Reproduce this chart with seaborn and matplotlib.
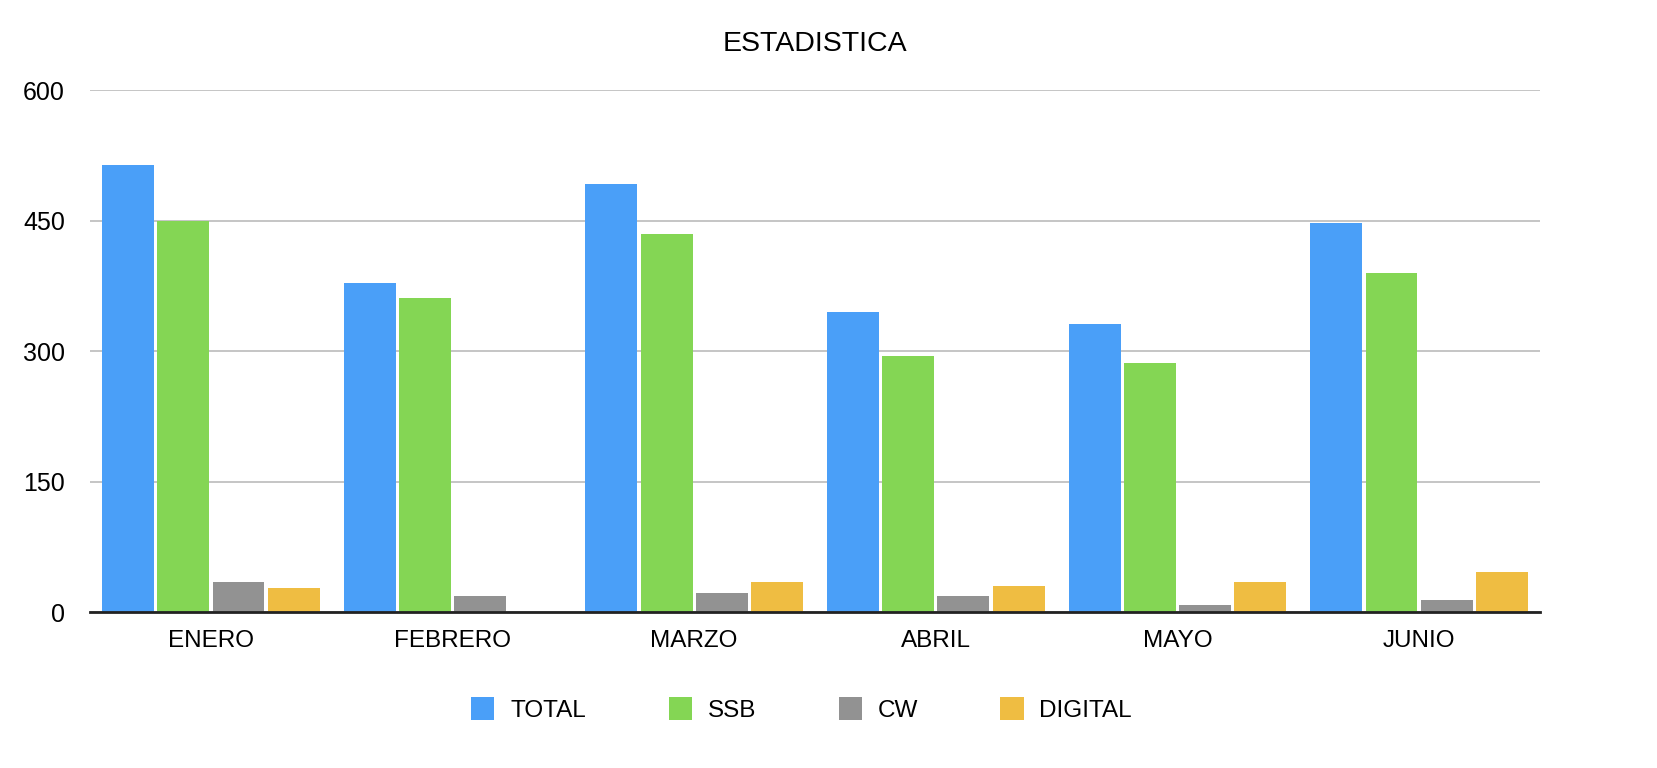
import matplotlib.pyplot as plt
import pandas as pd
import seaborn as sns

MESES = ['ENERO', 'FEBRERO', 'MARZO', 'ABRIL', 'MAYO', 'JUNIO']
SERIES = ['TOTAL', 'SSB', 'CW', 'DIGITAL']
TOTAL = [514, 379, 492, 345, 331, 448]
SSB = [450, 361, 435, 294, 287, 390]
CW = [34, 18, 22, 18, 8, 14]
DIGITAL = [28, 0, 34, 30, 34, 46]
Y_TICKS = [0, 150, 300, 450, 600]

COLORS = {'TOTAL': '#4A9FF8', 'SSB': '#84D654', 'CW': '#929292', 'DIGITAL': '#EFBD42'}

sns.set_theme(style='white')
plt.rcParams['font.family'] = ['Liberation Sans', 'DejaVu Sans']
plt.rcParams['text.color'] = 'black'

rows = []
for serie, vals in zip(SERIES, [TOTAL, SSB, CW, DIGITAL]):
    for mes, v in zip(MESES, vals):
        rows.append({'mes': mes, 'valor': v, 'serie': serie})
df = pd.DataFrame(rows)

fig = plt.figure(figsize=(16.58, 7.68), dpi=100)
ax = fig.add_axes([0.0543, 0.2031, 0.8745, 0.6792])

sns.barplot(data=df, x='mes', y='valor', hue='serie', order=MESES, hue_order=SERIES,
            palette=COLORS, width=0.915, gap=0.06, saturation=1, errorbar=None,
            linewidth=0, ax=ax, zorder=3)

ax.set_xlim(-0.5, len(MESES) - 0.5)
ax.set_ylim(0, 600)
ax.set_yticks(Y_TICKS)
ax.yaxis.grid(True, color='#BBBBBB', linewidth=1.2, zorder=0)
ax.xaxis.grid(False)
ax.set_axisbelow(True)
for side in ['left', 'right', 'top']:
    ax.spines[side].set_visible(False)
ax.spines['bottom'].set_color('#222222')
ax.spines['bottom'].set_linewidth(2)
ax.spines['bottom'].set_zorder(5)
ax.tick_params(axis='y', length=0, pad=18, labelsize=18, labelcolor='black')
ax.tick_params(axis='x', length=0, pad=13, labelsize=17.5, labelcolor='black')
ax.set_xlabel('')
ax.set_ylabel('')

fig.suptitle('ESTADISTICA', x=0.4916, y=0.943, va='center', fontsize=20.5, color='black')

handles, labels = ax.get_legend_handles_labels()
leg = ax.legend(handles, labels, loc='center', bbox_to_anchor=(0.4835, 0.076),
                bbox_transform=fig.transFigure, ncol=4, frameon=False, fontsize=17.5,
                handlelength=0.95, handleheight=1.05, handletextpad=0.65, columnspacing=3.4)
for txt in leg.get_texts():
    txt.set_color('black')

fig.savefig('out.png', dpi=100)
